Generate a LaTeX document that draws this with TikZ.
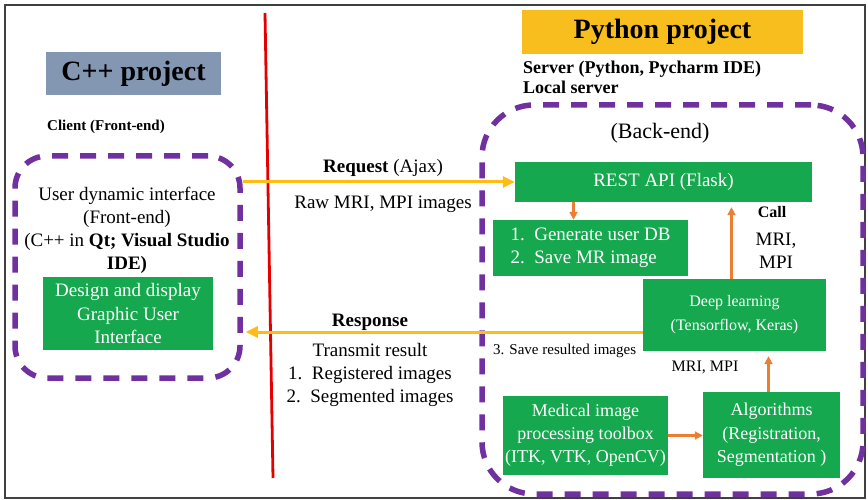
\documentclass[tikz,border=0pt]{standalone}
\usepackage{fontspec}
\setmainfont{Liberation Serif}
\usepackage{xcolor}
\usetikzlibrary{arrows.meta,positioning,calc}

\definecolor{boxgreen}{RGB}{22,168,78}
\definecolor{dashpurple}{RGB}{112,48,160}
\definecolor{pygold}{RGB}{247,190,30}
\definecolor{cppblue}{RGB}{132,151,178}
\definecolor{reqyellow}{RGB}{255,188,20}
\definecolor{calorange}{RGB}{237,125,49}

\newcommand{\fs}[2]{\fontsize{#1}{#2}\selectfont}

\begin{document}
\begin{tikzpicture}[
    x=1pt, y=-1pt,
    greenbox/.style={
        rectangle,
        fill=boxgreen,
        text=white,
        align=center,
        inner sep=2pt,
        font=\fs{19}{23.5}
    },
    dashbox/.style={
        rectangle,
        draw=dashpurple,
        line width=5.5pt,
        dash pattern=on 16pt off 12pt,
        inner sep=0pt
    },
    titlebox/.style={
        rectangle,
        inner sep=0pt,
        font=\fs{28}{32}\bfseries
    },
    reqarrow/.style={draw=reqyellow, line width=3pt, -{Triangle[length=12pt,width=11pt]}},
    calarrow/.style={draw=calorange, line width=2.4pt, -{Triangle[length=8pt,width=8pt]}},
    note/.style={inner sep=0pt, font=\fs{19}{23}}
]

\useasboundingbox (0,0) rectangle (868,500);
\draw[line width=2.5pt, black!75] (5,5) rectangle (865,498);

% =========================================
% Left side: C++ project (client)
% =========================================
\node[titlebox, fill=cppblue, minimum width=175, minimum height=43] (cpp) at (133.5,73.5) {C++ project};
\node[note, font=\fs{15}{18}\bfseries, anchor=west] (client) at (47,127) {Client (Front-end)};

\node[dashbox, rounded corners=32pt, minimum width=225, minimum height=222] (front) at (127.5,267) {};
\node[note, align=center] (ui) at (127,230.5) {
    User dynamic interface\\
    (Front-end)\\
    (C++ in \textbf{Qt; Visual Studio}\\
    \textbf{IDE)}
};
\node[greenbox, minimum width=170, minimum height=73] (gui) at (128,313.5) {
    Design and display\\
    Graphic User\\
    Interface
};

% separator
\draw[red!90!black, line width=2.8pt] (265,13) -- (273,478);

% =========================================
% Right side: Python project (server)
% =========================================
\node[titlebox, fill=pygold, minimum width=281, minimum height=44] (py) at (662.5,32) {Python project};
\node[note, font=\fs{18}{20}\bfseries, anchor=north west, align=left] (server) at (523,61) {
    Server (Python, Pycharm IDE)\\
    Local server
};

\node[dashbox, rounded corners=52pt, minimum width=381, minimum height=389] (back) at (672.5,299.5) {};
\node[note, font=\fs{22}{26}] (backlbl) at (660,133) {(Back-end)};

\node[greenbox, minimum width=297, minimum height=40] (rest) at (663.5,182) {REST API (Flask)};
\node[greenbox, minimum width=195, minimum height=56, align=left] (gen) at (590.5,248) {
    1.\ \ Generate user DB\\
    2.\ \ Save MR image
};
\node[greenbox, minimum width=183, minimum height=72, font=\fs{16}{24}] (deep) at (734.5,315) {
    Deep learning\\
    (Tensorflow, Keras)
};
\node[greenbox, minimum width=165, minimum height=79, font=\fs{18}{23}] (toolbox) at (585.5,435.5) {
    Medical image\\
    processing toolbox\\
    (ITK, VTK, OpenCV)
};
\node[greenbox, minimum width=137, minimum height=86, font=\fs{18}{23.5}] (algo) at (771.5,435) {
    Algorithms\\
    (Registration,\\
    Segmentation )
};

% =========================================
% Arrows
% =========================================
% request: client -> REST API
\draw[reqarrow] (front.east |- rest.west) -- (rest.west);
\node[note] (reqlbl) at (383,168) {\textbf{Request} (Ajax)};
\node[note] (rawlbl) at (383,204) {Raw MRI, MPI images};

% response: deep learning -> client
\coordinate (resp) at ([yshift=-17pt]deep.west);
\draw[reqarrow] (resp) -- ([xshift=3pt]front.east |- resp);
\node[note, font=\fs{19}{23}\bfseries] (resplbl) at (370,322) {Response};
\node[note, align=center] (result) at (370,375) {
    Transmit result\\
    1.\ \ Registered images\\
    2.\ \ Segmented images
};
\node[note, font=\fs{15}{18}, anchor=west] (save) at (493,351) {3. Save resulted images};

% inside the back-end
\draw[calarrow] ([xshift=-17pt]gen.north |- rest.south) -- ([xshift=-17pt]gen.north);
\draw[calarrow, shorten >=5pt] ([xshift=-3pt]deep.north) -- ([xshift=-3pt]deep.north |- rest.south);
\node[note, font=\fs{16}{19}\bfseries] (call) at (772,212) {Call};
\node[note, align=center] (mri) at (776,251) {MRI,\\MPI};

\draw[calarrow, shorten >=5pt] ([xshift=-3pt]algo.north) -- ([xshift=-3pt]algo.north |- deep.south);
\node[note, font=\fs{16}{19}] (mri2) at (705,367) {MRI, MPI};

\draw[calarrow] (toolbox.east) -- (algo.west |- toolbox.east);

\end{tikzpicture}
\end{document}
